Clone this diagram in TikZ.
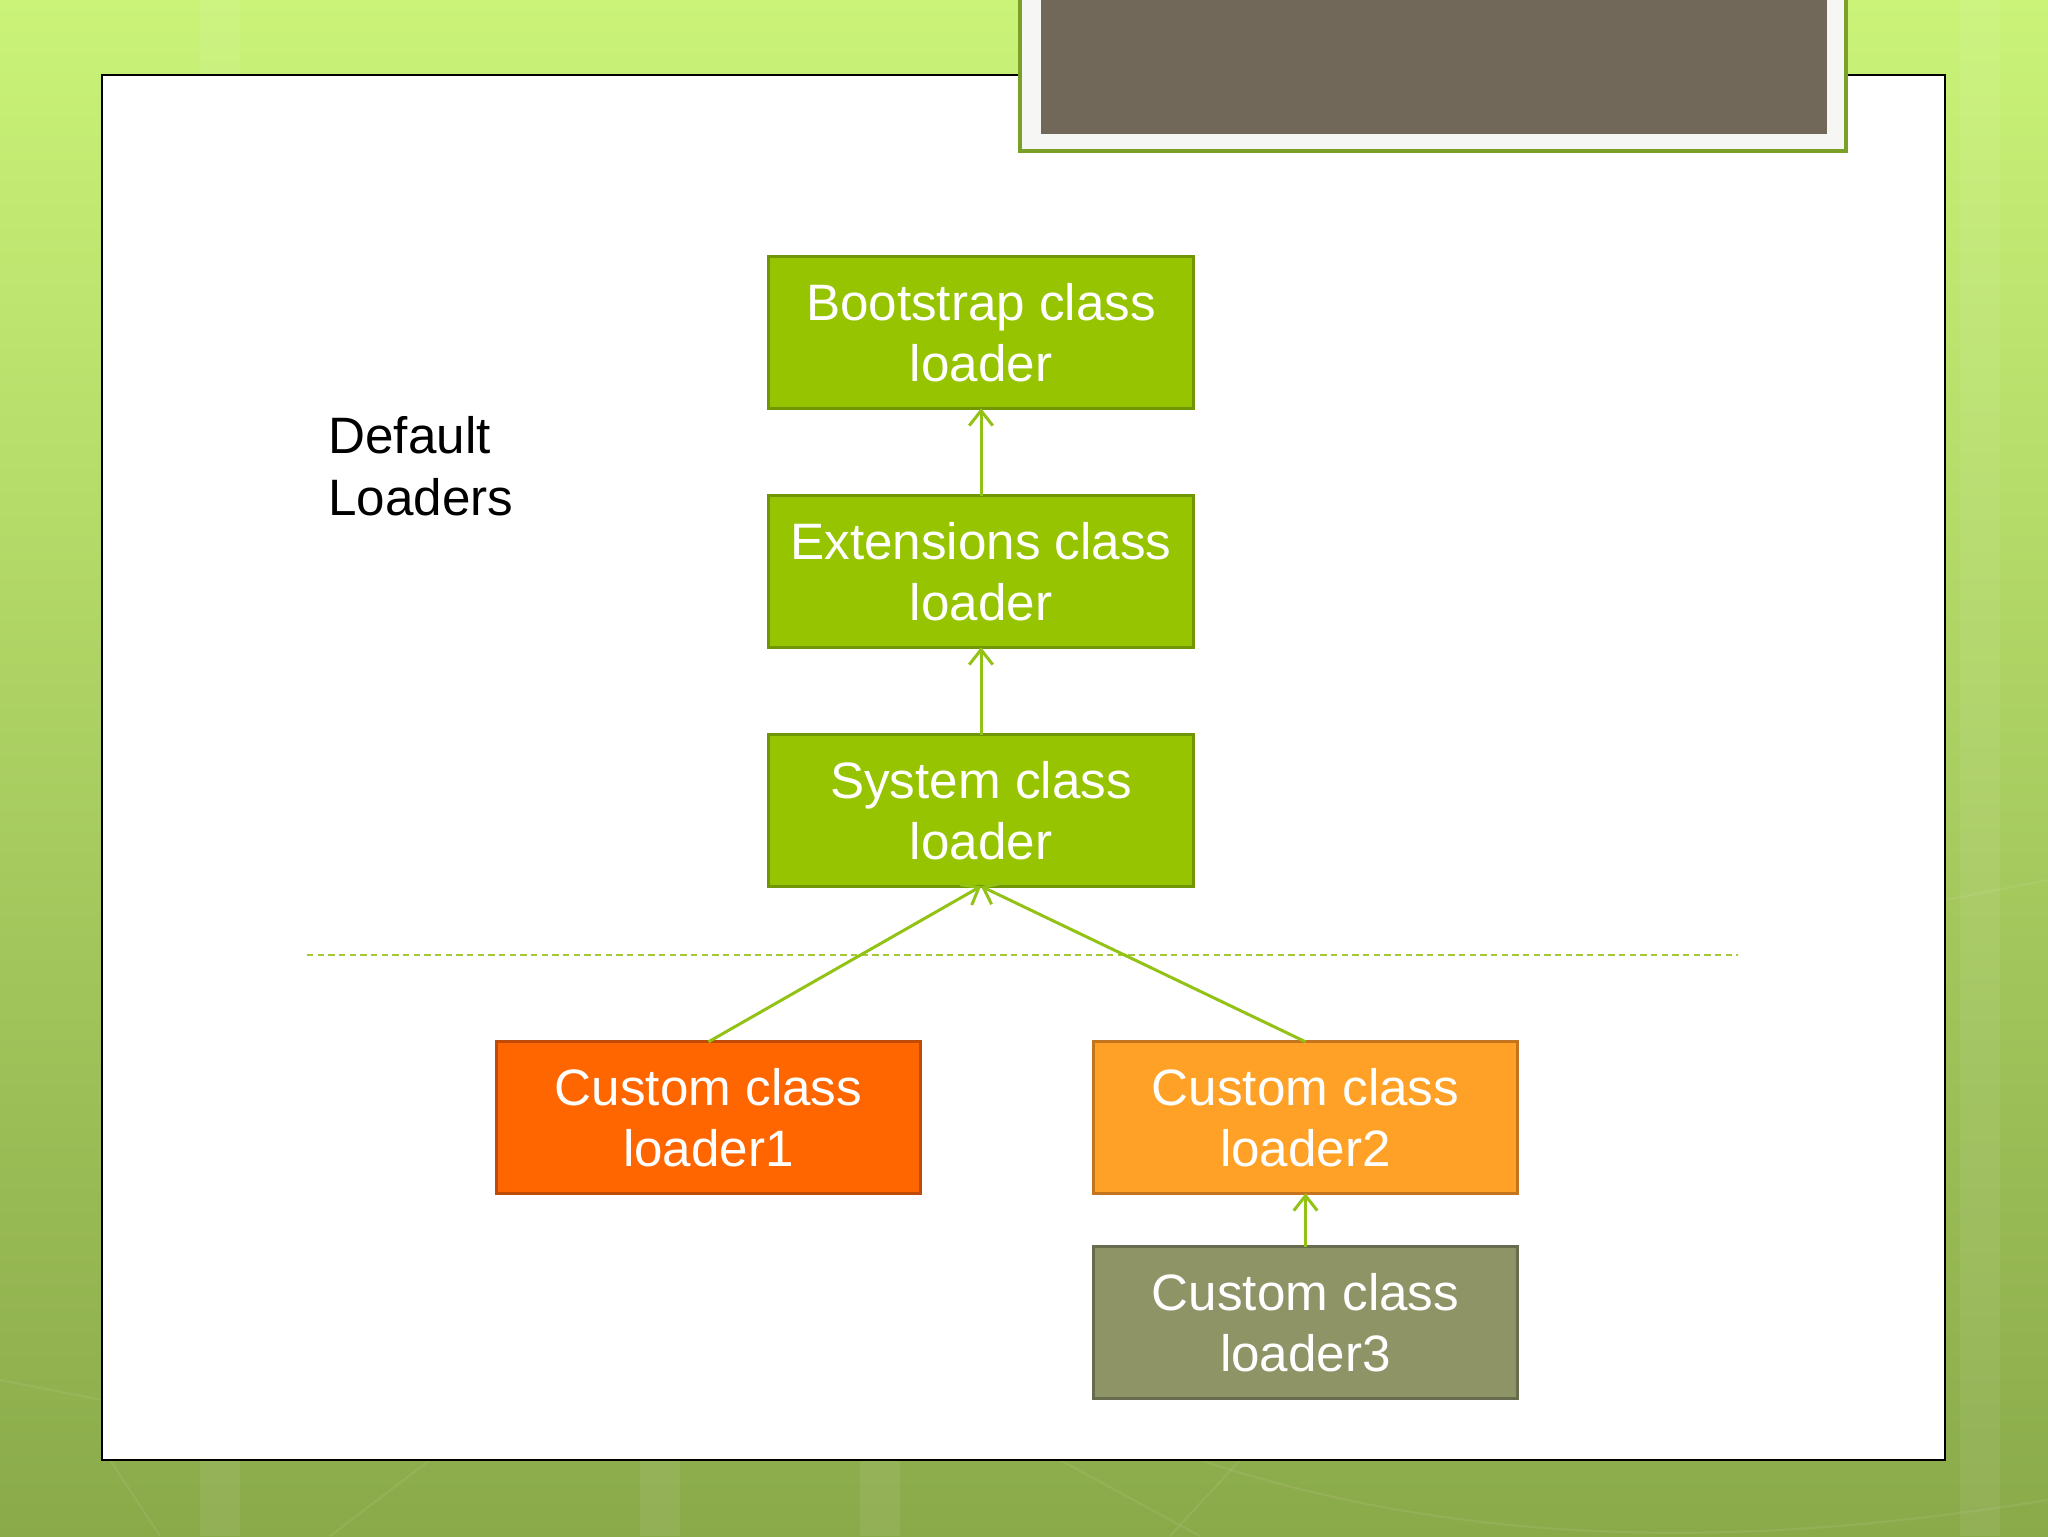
\documentclass[tikz,border=0pt]{standalone}
\usepackage{fontspec}
\setmainfont{Liberation Sans}
\usetikzlibrary{arrows.meta}
\definecolor{bgtop}{RGB}{202,243,120}
\definecolor{bgmid}{RGB}{170,210,90}
\definecolor{bgbot}{RGB}{138,170,74}
\definecolor{frameWhite}{RGB}{246,246,244}
\definecolor{frameGreen}{RGB}{122,160,40}
\definecolor{titleDark}{RGB}{114,104,90}
\definecolor{gFill}{RGB}{150,196,0}
\definecolor{gLine}{RGB}{112,150,6}
\definecolor{oFill}{RGB}{255,102,0}
\definecolor{oLine}{RGB}{190,76,8}
\definecolor{yFill}{RGB}{255,161,38}
\definecolor{yLine}{RGB}{196,116,30}
\definecolor{kFill}{RGB}{143,148,103}
\definecolor{kLine}{RGB}{104,108,78}
\definecolor{connC}{RGB}{146,194,20}
\definecolor{dashC}{RGB}{164,201,58}
\tikzset{
  loaderbox/.style={rectangle, minimum width=199pt, minimum height=71pt, line width=1.6pt,
    text=white, align=center, font=\fontsize{24}{28.8}\selectfont, inner sep=0pt, outer sep=0pt},
  conn/.style={draw=connC, line width=1.4pt, -{Straight Barb[length=7pt,width=11pt,line width=1.4pt]}},
  dashline/.style={draw=dashC, line width=1.1pt, dash pattern=on 3pt off 2pt}
}
\begin{document}
\begin{tikzpicture}[x=0.46875pt,y=-0.46875pt]
\useasboundingbox (0,0) rectangle (2048,1536);
% background
\shade[top color=bgtop, middle color=bgmid, bottom color=bgbot] (0,0) rectangle (2048,1536);
\begin{scope}[white, opacity=0.07, line width=1pt]
  \fill (200,0) rectangle (240,1536);
  \fill (640,1460) rectangle (680,1536);
  \fill (860,1460) rectangle (900,1536);
  \fill (1960,0) rectangle (2000,1536);
  \draw (0,1380) -- (102,1400);
  \draw (110,1460) -- (160,1536);
  \draw (430,1460) -- (330,1536);
  \draw (1060,1460) -- (1200,1536);
  \draw (1240,1460) -- (1170,1536);
  \draw (1200,1460) .. controls (1500,1560) and (1800,1540) .. (2048,1500);
  \draw (1945,900) -- (2048,880);
\end{scope}
% content panel
\draw[black, line width=1pt, fill=white] (102,75) rectangle (1945,1460);
% title placeholder
\draw[draw=frameGreen, line width=1.6pt, fill=frameWhite] (1020,-10) rectangle (1846,151);
\fill[titleDark] (1041,-10) rectangle (1827,134);
% label
\node[anchor=west, align=left, inner sep=0pt, font=\fontsize{24}{28.8}\selectfont] (lbl) at (328,466) {Default\\Loaders};
% boxes
\node[loaderbox, fill=gFill, draw=gLine] (boot) at (981,332.5) {Bootstrap class\\loader};
\node[loaderbox, fill=gFill, draw=gLine] (ext) at (981,571.5) {Extensions class\\loader};
\node[loaderbox, fill=gFill, draw=gLine] (sys) at (981,810.5) {System class\\loader};
\node[loaderbox, fill=oFill, draw=oLine] (c1) at (708.5,1117.5) {Custom class\\loader1};
\node[loaderbox, fill=yFill, draw=yLine] (c2) at (1305.5,1117.5) {Custom class\\loader2};
\node[loaderbox, fill=kFill, draw=kLine] (c3) at (1305.5,1322.5) {Custom class\\loader3};
% dashed separator
\coordinate (dl) at (307,955);
\coordinate (dr) at (1738,955);
\draw[dashline] (dl) -- (dr);
% connectors
\draw[conn] (ext.north) -- (boot.south);
\draw[conn] (sys.north) -- (ext.south);
\draw[conn] (c1.north) -- (sys.south);
\draw[conn] (c2.north) -- (sys.south);
\draw[conn] (c3.north) -- (c2.south);
\end{tikzpicture}
\end{document}
